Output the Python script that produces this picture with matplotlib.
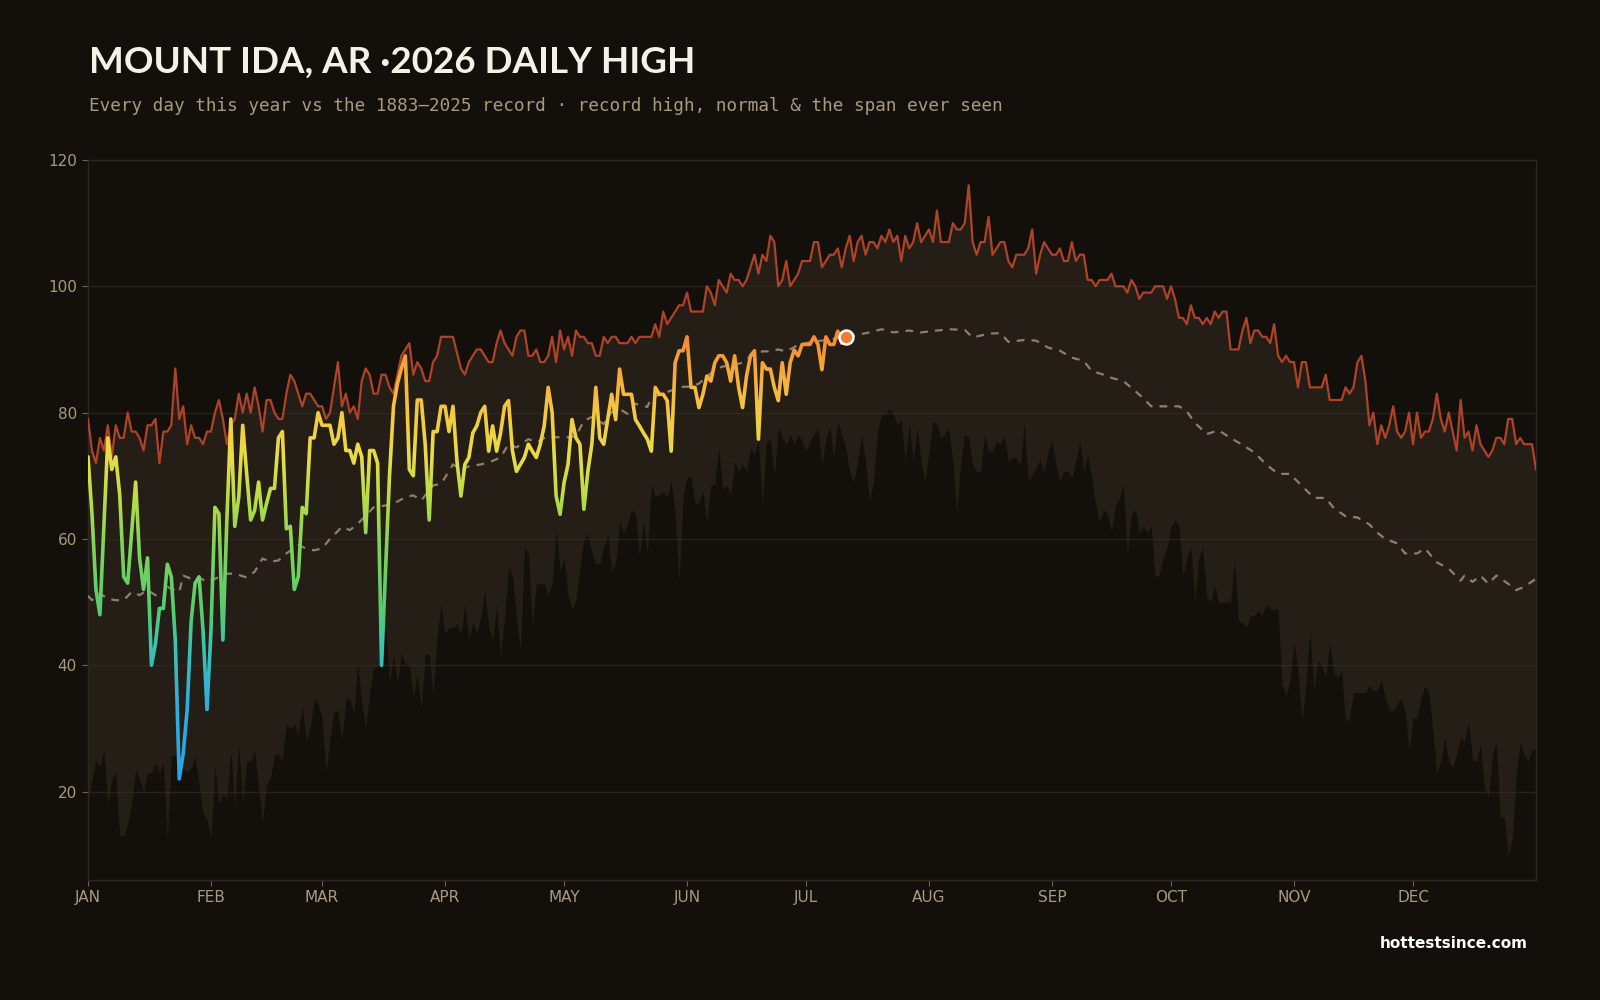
import numpy as np
import matplotlib
matplotlib.use("Agg")
from matplotlib import pyplot as plt
from matplotlib.colors import LinearSegmentedColormap, Normalize
from matplotlib.transforms import Bbox, TransformedBbox

# record daily high, Jan 1 .. Dec 31 (deg F)
record_high = [
    79, 74, 72, 76, 74, 78, 73, 78, 76, 76,
    80, 77, 77, 76, 74, 78, 78, 79, 72, 77,
    77, 78, 87, 79, 81, 75, 78, 76, 76, 75,
    77, 77, 80, 82, 79, 75, 78, 79, 83, 80,
    83, 80, 84, 81, 77, 82, 82, 80, 79, 79,
    83, 86, 85, 83, 81, 83, 83, 82, 81, 81,
    79, 80, 84, 88, 81, 83, 80, 81, 79, 85,
    87, 86, 83, 83, 86, 86, 84, 83, 86, 89,
    90, 91, 86, 88, 87, 85, 85, 88, 89, 92,
    92, 92, 92, 89.5, 87, 86, 88, 89, 90, 90,
    89, 88, 88, 91, 93, 91, 90, 89, 92, 93,
    93, 89, 89, 90, 88, 88, 89, 92, 88, 93,
    90, 92, 89, 93, 92, 92, 91, 91, 89, 89,
    92, 91, 92, 92, 91, 91, 91, 92, 91, 92,
    92, 92, 92, 94, 92, 96, 94, 95, 96, 97,
    97, 99, 96, 96, 96, 96, 100, 99, 97, 101,
    100, 99, 102, 101, 101, 100, 101, 103, 105, 102,
    105, 104, 108, 107, 100, 101, 104, 100, 101, 102,
    104, 104, 104, 107, 107, 103, 104, 105, 105, 106,
    103, 106, 108, 104, 107, 108, 105, 107, 107, 106,
    108, 107, 109, 107, 108, 104, 108, 106, 107, 110,
    107, 108, 109, 107, 112, 107, 107, 107, 110, 109,
    109, 110, 116, 107, 105, 107, 107, 111, 105, 106,
    107, 107, 104, 103, 105, 105, 105, 106, 109, 102,
    105, 107, 106, 105, 105, 106, 104, 104, 107, 104,
    105, 105, 101, 101, 100, 101, 101, 101, 102, 100,
    100, 100, 99, 101, 100, 98, 99, 99, 99, 100,
    100, 100, 98, 100, 98, 95, 95, 94, 97, 95,
    95, 94, 95, 94, 96, 95, 96, 96, 90, 90,
    90, 93, 95, 91, 93, 93, 92, 92, 91, 94,
    89, 88, 89, 88, 88, 84, 88, 88, 84, 84,
    84, 84, 86, 82, 82, 82, 82, 84, 83, 84,
    88, 89, 85, 78, 80, 75, 78, 76, 78, 81,
    77, 76, 77, 80, 75, 80, 76, 77, 77, 79,
    83, 79, 77, 80, 77, 74, 82, 76, 77, 74,
    78, 75, 74, 73, 74, 76, 76, 75, 79, 79,
    75, 76, 75, 75, 75, 71,
]

# record daily low of the high (bottom of the span ever seen)
record_low = [
    18, 22, 25, 24, 26.6, 18, 22, 23, 13, 13,
    15, 18, 23.5, 22, 20, 23, 23, 24.6, 23, 24.6,
    12.4, 25.7, 25.7, 25.5, 23.5, 23, 23.8, 25.6, 21, 16.5,
    15.5, 12.6, 24, 18, 19.7, 19, 26.5, 17.5, 27.6, 18.3,
    24.9, 24.9, 26.5, 20.6, 15.1, 21.2, 22.2, 25.9, 25.9, 24.9,
    30.7, 29.9, 30.7, 29.1, 33.6, 28.1, 29.9, 34.7, 33.9, 31.8,
    23, 28.6, 32.8, 32.8, 28.1, 34.7, 34.7, 32.3, 40.5, 34.2,
    30.2, 35.7, 39.7, 39.7, 40.2, 46.5, 37.1, 41.8, 37.3, 41.8,
    40.2, 40, 35.2, 38.6, 33.3, 41.8, 41.8, 35.2, 45, 49.5,
    45, 46, 46, 46.6, 45, 49.5, 44.2, 46.8, 45.2, 47.6,
    51.9, 46, 44.2, 49.5, 41.3, 47.6, 55.6, 54.2, 47.6, 42.3,
    58.7, 57.9, 46.3, 52.9, 52.9, 52.9, 51.1, 53.2, 61.6, 55,
    56.9, 51.1, 48.9, 50.3, 55.6, 60, 60.8, 57.9, 56.1, 56.1,
    58.7, 60.8, 55, 56.1, 62.7, 61, 62.3, 64.7, 63.9, 57.4,
    63, 57.4, 68.6, 66.8, 67, 67.6, 66.5, 69.2, 63.9, 53.2,
    66.8, 69.8, 69.8, 65.7, 65.7, 67.6, 62.8, 68.6, 68.6, 74.4,
    67.8, 68.6, 67, 72.3, 70.7, 71.8, 70.7, 74.4, 73.4, 75.5,
    65.4, 75.2, 76, 70, 77.6, 76, 75, 76.6, 75, 76.6,
    75.5, 73.9, 75.5, 76.6, 77.6, 71.8, 76, 77.6, 72.9, 78.7,
    76.6, 74.4, 70.7, 68.9, 72.3, 76.6, 72.3, 66, 69.2, 77.1,
    79.7, 79.7, 80.7, 79.7, 78.1, 78.9, 72.3, 78.4, 72.3, 77.6,
    72.3, 69.2, 73.9, 78.7, 78.1, 76, 76.6, 77.6, 72.3, 63.9,
    72.3, 76.6, 76, 71.8, 70.7, 70.7, 76.6, 73.9, 73.9, 75.5,
    75, 76.3, 72.3, 72.9, 72.9, 71.8, 78.4, 69.2, 70.2, 71.3,
    72.6, 70.5, 73.9, 75.5, 71.8, 69.2, 70.7, 70.7, 69.7, 72.3,
    75.5, 70.7, 73.4, 69.7, 65.4, 62.8, 64.7, 63.9, 61.1, 65.4,
    66.5, 68.6, 57.4, 63.9, 64.7, 61, 62, 61, 62, 54,
    54.2, 57, 58.7, 62, 63, 62, 54.2, 57, 58.7, 50.3,
    57.1, 58.7, 50.8, 50, 52.6, 50, 50, 50, 50, 56.6,
    47.1, 46.8, 46, 47.9, 47.9, 48.7, 47.9, 49.7, 48.9, 48.9,
    48.9, 37, 35.2, 37.6, 43.7, 39.2, 31.2, 37, 45.5, 36.2,
    40.7, 39.9, 38.1, 43.7, 38.9, 38.1, 38.9, 31, 31.7, 35.7,
    35.7, 35.7, 35.7, 36.8, 36, 36, 37.6, 34.9, 32.8, 32.8,
    33.9, 34.7, 32.8, 26.5, 31.7, 31.7, 34.9, 36.8, 35.7, 29.6,
    23, 24.9, 28.6, 24.9, 23.8, 25.9, 28.6, 27.8, 31.2, 24.9,
    24.9, 27.5, 20.6, 19, 25.9, 27.8, 15.9, 15.9, 10, 12.2,
    22.8, 27.8, 25.9, 24.9, 26.7, 26.7,
]

# normal high (read at these days of year)
normal_days = [
    0, 1, 3, 5, 7, 9, 11, 13, 15, 17, 19, 20, 23, 24, 26, 28, 30, 32, 35, 37,
    40, 42, 44, 46, 48, 50, 53, 55, 57, 59, 61, 64, 66, 68, 70, 72, 75, 77, 80, 82,
    84, 87, 89, 92, 94, 96, 99, 101, 104, 106, 108, 111, 113, 116, 118, 121, 123, 125, 127, 130,
    132, 134, 136, 138, 141, 142, 145, 147, 150, 152, 154, 156, 158, 160, 163, 165, 167, 170, 172, 174,
    176, 179, 181, 183, 187, 190, 193, 197, 200, 203, 207, 210, 214, 217, 221, 223, 227, 230, 232, 236,
    239, 242, 245, 248, 251, 253, 257, 258, 261, 264, 266, 268, 271, 275, 277, 279, 282, 285, 288, 291,
    294, 297, 300, 303, 306, 309, 312, 314, 317, 320, 323, 325, 327, 330, 332, 335, 337, 340, 343, 346,
    347, 349, 351, 353, 355, 358, 360, 362, 365,
]
normal_vals = [
    51, 50.3, 51.4, 50.5, 50.3, 50.3, 51.6, 51.1, 51.9, 51.1, 50.3, 52.4, 51.6, 54.2, 53.7, 53.9, 53.2, 53.7, 54.5, 54.5,
    53.9, 54.8, 56.9, 56.4, 56.6, 57.7, 59, 58.5, 58.2, 58.5, 60, 61.9, 61.4, 62.4, 63.7, 65, 65.3, 65.6, 66.6, 66.9,
    66.1, 68.5, 68.7, 71.8, 71, 71.5, 71.8, 72.1, 72.9, 75, 74.5, 75.8, 75.3, 76.3, 76.1, 76.1, 76.3, 78.7, 79.3, 78.2,
    80.1, 80.6, 79.8, 81.4, 80.9, 82.4, 83, 83.5, 84.1, 84.1, 84.6, 85.7, 86.8, 87.3, 87.6, 87.9, 88.9, 89.7, 89.7, 90,
    89.7, 90.7, 91, 91.3, 91.5, 92, 92.2, 92.7, 93.2, 92.7, 93, 92.7, 93, 93.2, 93.1, 91.9, 92.5, 92.6, 91.2, 91.5,
    91.4, 90.3, 89.8, 88.7, 88.2, 86.6, 85.8, 85.5, 85, 83.4, 82.3, 81, 81, 81, 80.2, 78.4, 76.6, 77.2, 76, 74.9,
    73.7, 71.8, 70.3, 70.3, 68.4, 66.5, 66.5, 64.9, 63.6, 63.4, 62.3, 61, 60, 59.3, 57.7, 57.7, 58.5, 56.3, 55.3, 53.4,
    54.2, 53.2, 54.2, 52.9, 54.2, 52.9, 51.9, 52.4, 53.7,
]

# 2026 daily highs so far (Jan 1 .. Jul 11)
this_year = [
    73, 64, 52, 48, 62, 76, 71, 73, 67, 54,
    53, 61, 69, 57, 52, 57, 40, 43.4, 49, 49,
    56, 54, 44, 22, 26, 33, 47, 53, 54, 45.5,
    33, 45.5, 65, 64, 44, 63, 79, 62, 66.6, 78,
    70.3, 63, 64.5, 69, 63, 65.6, 68, 68, 76, 77,
    61.6, 62, 52, 54, 65, 64, 76, 76, 80, 78,
    78, 78, 75, 76, 80, 74, 74, 72, 75, 73,
    61, 74, 74, 72, 40, 55, 70, 81, 84.6, 87,
    89, 71, 70, 82, 82, 75, 63, 77, 77, 81,
    81, 77, 81, 72.3, 66.8, 71.8, 72.9, 76.8, 77.9, 80,
    81, 73.9, 77.9, 73.9, 76.8, 81, 81.9, 73.9, 70.7, 71.8,
    72.9, 75, 73.9, 72.9, 75, 77.9, 84, 80, 66.8, 63.9,
    68.9, 71.8, 78.9, 76, 75, 64.7, 70.7, 75, 84, 76,
    75, 78.9, 82.9, 78.9, 86.9, 82.9, 82.9, 82.9, 78.9, 77.9,
    76.8, 75.8, 73.9, 84, 82.9, 82.9, 81.9, 73.9, 87.9, 89.8,
    89.8, 92, 84, 84, 80.8, 82.9, 85.8, 85, 87.9, 89,
    89, 87.9, 85, 89, 84, 80.8, 85.8, 89, 89.8, 75.8,
    87.9, 86.9, 86.9, 84, 81.9, 87.9, 82.9, 87.9, 89.9, 89,
    90.8, 90.8, 90.8, 92, 90.8, 86.8, 92, 90.8, 90.8, 92.9,
    91, 92,
]

month_starts = [0, 31, 59, 90, 120, 151, 181, 212, 243, 273, 304, 334]
month_labels = ["JAN", "FEB", "MAR", "APR", "MAY", "JUN",
                "JUL", "AUG", "SEP", "OCT", "NOV", "DEC"]
y_ticks = [20, 40, 60, 80, 100, 120]

BG = "#13100c"
BAND = "#241e16"
TAN = "#a89a80"

days = np.arange(len(record_high))
ty_days = np.arange(len(this_year))

fig = plt.figure(figsize=(16, 10), dpi=100, facecolor=BG)
ax = fig.add_axes([0.055, 0.12, 0.905, 0.72])
ax.set_facecolor(BG)

# span ever seen
ax.fill_between(days, record_low, record_high, color=BAND, lw=0, zorder=1)

# grid
for yv in y_ticks[:-1]:
    ax.axhline(yv, color="#3a2f25", lw=1, alpha=0.55, zorder=2)

# record high
ax.plot(days, record_high, color="#ad4329", lw=1.6, zorder=3)

# normal
ax.plot(normal_days, normal_vals, color=TAN, lw=1.6, alpha=0.8,
        linestyle=(0, (3.5, 3.2)), zorder=3)

# this year, colored by temperature (banded clip to get a vertical gradient)
cmap = LinearSegmentedColormap.from_list("temp", [
    (0.00, "#2b9fe8"),
    (0.20, "#30b0dc"),
    (0.32, "#3cc6a6"),
    (0.38, "#55cc70"),
    (0.52, "#7fd35a"),
    (0.62, "#b8dc48"),
    (0.71, "#e8dc48"),
    (0.81, "#f5c640"),
    (0.89, "#f5a83a"),
    (1.00, "#f07c2e"),
])
norm = Normalize(20, 95)
edges = np.arange(0, 121, 0.5)
for lo, hi in zip(edges[:-1], edges[1:]):
    ln, = ax.plot(ty_days, this_year, color=cmap(norm((lo + hi) / 2)), lw=2.6,
                  solid_joinstyle="round", solid_capstyle="round", zorder=4)
    ln.set_clip_box(TransformedBbox(Bbox([[0, lo], [365, hi]]), ax.transData))

ax.plot(ty_days[-1], this_year[-1], "o", ms=10, mfc="#f07c30", mec="white",
        mew=1.8, zorder=6)

ax.set_xlim(0, 365)
ax.set_ylim(6, 120)
ax.set_xticks(month_starts)
ax.set_xticklabels(month_labels)
ax.set_yticks(y_ticks)
ax.tick_params(colors="#6e6250", labelcolor=TAN, labelsize=11, length=4, pad=4)
ax.tick_params(axis="x", pad=3)
for s in ax.spines.values():
    s.set_color("#2e271f")
    s.set_linewidth(1)

fig.text(0.0556, 0.938, "MOUNT IDA, AR \u00b72026 DAILY HIGH", fontsize=26.5,
         fontweight="bold", family="Lato", color="#f5f0e8", va="center")
fig.text(0.0556, 0.894,
         "Every day this year vs the 1883\u20132025 record \u00b7 record high, normal & the span ever seen",
         fontsize=12.7, family="DejaVu Sans Mono", color=TAN, va="center")
fig.text(0.955, 0.056, "hottestsince.com", fontsize=11, fontweight="bold",
         color="white", ha="right", va="center")

fig.savefig("out.png", dpi=100, facecolor=BG)
